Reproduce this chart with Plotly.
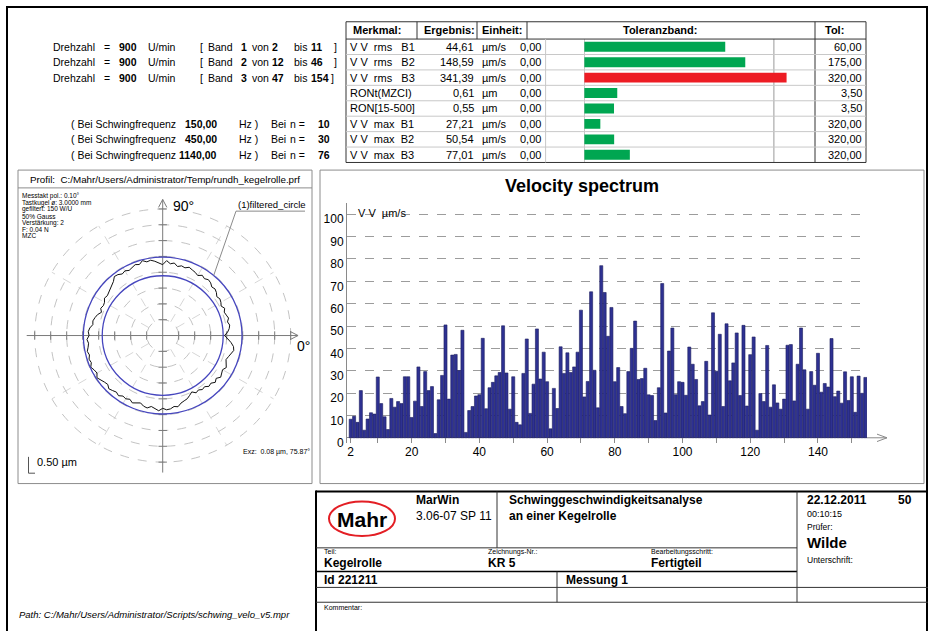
import math
import plotly.graph_objects as go

W, H = 930, 631
FONT = "Liberation Sans, Arial, Helvetica, sans-serif"

# ---------------- data ----------------
# velocity spectrum, harmonic order n = 2 .. 154 (values in um/s)
spectrum_n = list(range(2, 155))
spectrum_v = [
    8.3, 9.6, 6.9, 21.1, 3.4, 8.4, 11.2, 10.6, 27.2, 15.3,          # 2-11
    9.4, 3.7, 17.6, 13.7, 16.2, 15.3, 27.3, 27.3, 9.1, 16.4,         # 12-21
    31.7, 14.0, 29.6, 21.1, 22.9, 1.9, 17.0, 27.9, 50.5, 17.3,       # 22-31
    37.0, 37.3, 30.1, 48.1, 2.4, 12.2, 14.0, 18.7, 19.3, 44.5,       # 32-41
    13.0, 22.4, 24.8, 27.7, 29.2, 50.1, 29.0, 12.8, 27.3, 6.9,       # 42-51
    5.8, 28.8, 44.2, 10.9, 24.0, 48.7, 26.3, 38.3, 25.1, 4.0,        # 52-61
    22.1, 13.1, 40.7, 28.8, 38.0, 29.2, 31.7, 38.3, 57.1, 18.3,      # 62-71
    25.2, 65.3, 30.2, 13.4, 77.0, 65.0, 45.4, 58.3, 25.1, 31.4,      # 72-81
    14.0, 10.8, 29.6, 40.0, 52.2, 26.1, 26.5, 31.1, 19.2, 18.9,      # 82-91
    7.7, 22.4, 69.0, 11.1, 38.8, 49.1, 19.3, 25.1, 24.8, 19.0,       # 92-101
    40.6, 32.9, 26.1, 14.3, 16.2, 34.2, 10.2, 55.9, 29.8, 46.3,      # 102-111
    14.0, 51.0, 25.5, 33.5, 46.9, 18.9, 50.3, 14.2, 37.2, 45.1,      # 112-121
    3.4, 19.8, 16.2, 41.3, 13.7, 23.7, 15.6, 12.8, 17.3, 41.4,       # 122-131
    41.7, 16.5, 32.9, 49.1, 30.4, 12.8, 29.6, 23.5, 37.8, 20.4,      # 132-141
    24.3, 22.7, 44.4, 18.4, 20.9, 15.5, 29.5, 16.7, 27.3, 11.4,      # 142-151
    27.6, 19.9, 27.0,                                                # 152-154
]
spectrum_yticks = [0, 10, 20, 30, 40, 50, 60, 70, 80, 90, 100]
spectrum_xlabels = [2, 20, 40, 60, 80, 100, 120, 140]
spectrum_xticks = [10, 30, 50, 70, 90, 110, 130, 150]

# result table
merkmal = ["V V  rms   B1", "V V  rms   B2", "V V  rms   B3", "RONt(MZCI)",
           "RON[15-500]", "V V  max  B1", "V V  max  B2", "V V  max  B3"]
ergebnis = [44.61, 148.59, 341.39, 0.61, 0.55, 27.21, 50.54, 77.01]
einheit = ["µm/s", "µm/s", "µm/s", "µm", "µm", "µm/s", "µm/s", "µm/s"]
untere_tol = [0.00, 0.00, 0.00, 0.00, 0.00, 0.00, 0.00, 0.00]
obere_tol = [60.00, 175.00, 320.00, 3.50, 3.50, 320.00, 320.00, 320.00]

# band info
drehzahl = [900, 900, 900]
band_nr = [1, 2, 3]
band_von = [2, 12, 47]
band_bis = [11, 46, 154]
schwing_freq = [150.00, 450.00, 1140.00]
schwing_n = [10, 30, 76]

# roundness profile (polar), radius in plot units every 3 degrees
profile_deg = [3 * i for i in range(120)]
profile_r = [
    1.93, 2.03, 2.09, 2.12, 2.07, 2.13, 2.09, 2.06, 2.12, 2.05,
    2.10, 2.13, 2.09, 2.16, 2.20, 2.17, 2.24, 2.27, 2.22, 2.27,
    2.19, 2.24, 2.27, 2.31, 2.25, 2.28, 2.23, 2.32, 2.28, 2.37,
    2.24, 2.30, 2.36, 2.41, 2.38, 2.45, 2.36, 2.40, 2.35, 2.31,
    2.36, 2.32, 2.38, 2.40, 2.30, 2.25, 2.21, 2.19, 2.14, 2.17,
    2.10, 2.08, 2.12, 2.05, 2.14, 2.19, 2.23, 2.21, 2.29, 2.33,
    2.30, 2.37, 2.33, 2.36, 2.41, 2.37, 2.42, 2.39, 2.46, 2.40,
    2.37, 2.45, 2.38, 2.34, 2.31, 2.38, 2.34, 2.30, 2.35, 2.28,
    2.31, 2.26, 2.33, 2.29, 2.24, 2.31, 2.34, 2.27, 2.31, 2.38,
    2.30, 2.35, 2.33, 2.27, 2.30, 2.21, 2.17, 2.14, 2.07, 2.00,
    2.09, 2.05, 2.11, 2.08, 2.16, 2.13, 2.21, 2.15, 2.24, 2.19,
    2.16, 2.23, 2.18, 2.12, 2.16, 2.21, 2.27, 2.24, 2.15, 2.04,
]
mzc_radii = [1.89, 2.48]
grid_radii = [0.5, 1.0, 1.5, 2.0, 2.5, 3.0, 3.5, 4.0]
radial_deg = [30, 60, 120, 150, 210, 240, 300, 330]

# ---------------- helpers ----------------
def X(p):
    return p / W


def Y(p):
    return 1 - p / H


def fmt(v):
    return f"{v:.2f}".replace(".", ",")


shapes, annos = [], []


def pline(x0, y0, x1, y1, color="#000", width=1, dash=None, layer="above"):
    ln = dict(color=color, width=width)
    if dash:
        ln["dash"] = dash
    shapes.append(dict(type="line", xref="paper", yref="paper", x0=X(x0), y0=Y(y0),
                       x1=X(x1), y1=Y(y1), line=ln, layer=layer))


def prect(x0, y0, x1, y1, color, width=1):
    shapes.append(dict(type="rect", xref="paper", yref="paper", x0=X(x0), y0=Y(y0),
                       x1=X(x1), y1=Y(y1), line=dict(color=color, width=width),
                       fillcolor="rgba(0,0,0,0)"))


def txt(x, y, s, size=11, anchor="left", color="#000"):
    annos.append(dict(xref="paper", yref="paper", x=X(x), y=Y(y), text=s, showarrow=False,
                      xanchor=anchor, yanchor="middle", borderpad=0,
                      font=dict(family=FONT, size=size, color=color)))


NB = "\u00a0"

fig = go.Figure()

# ---------------- velocity spectrum (x / y) ----------------
fig.add_trace(go.Bar(x=spectrum_n, y=spectrum_v, xaxis="x", yaxis="y",
                     marker=dict(color="#2E3192", line=dict(color="#1C1E5E", width=0.6)),
                     width=0.9, hoverinfo="skip"))

px_per_n = 3.386
x_left_px, x_right_px = 347, 867
n_lo = spectrum_n[0] - (350.7 - x_left_px) / px_per_n
n_hi = spectrum_n[0] + (x_right_px - 350.7) / px_per_n
y0_px, y_top_px, y_bot_px = 442.7, 205.4, 448.4
px_per_v = 2.2605
v_lo = -(y_bot_px - y0_px) / px_per_v
v_hi = (y0_px - y_top_px) / px_per_v

xt_vals = sorted(spectrum_xlabels + spectrum_xticks)
xt_text = [str(v) if v in spectrum_xlabels else "" for v in xt_vals]

# ---------------- polar profile (x2 / y2) ----------------
cx, cy, upx = 162.7, 339.3, 32.0
pol_x0, pol_x1, pol_y0, pol_y1 = 20, 306, 175, 486
ang = profile_deg + [profile_deg[0]]
rr = profile_r + [profile_r[0]]
prof_x = [r * math.cos(math.radians(a)) for a, r in zip(ang, rr)]
prof_y = [r * math.sin(math.radians(a)) for a, r in zip(ang, rr)]

for r in grid_radii:
    shapes.append(dict(type="circle", xref="x2", yref="y2", x0=-r, y0=-r, x1=r, y1=r,
                       line=dict(color="#b4b4b4", width=0.8, dash="dash"), layer="below"))
for a in radial_deg:
    shapes.append(dict(type="line", xref="x2", yref="y2",
                       x0=grid_radii[0] * math.cos(math.radians(a)),
                       y0=grid_radii[0] * math.sin(math.radians(a)),
                       x1=grid_radii[-1] * math.cos(math.radians(a)),
                       y1=grid_radii[-1] * math.sin(math.radians(a)),
                       line=dict(color="#c4c4c4", width=0.7, dash="dash"), layer="below"))
for r in mzc_radii:
    shapes.append(dict(type="circle", xref="x2", yref="y2", x0=-r, y0=-r, x1=r, y1=r,
                       line=dict(color="#4646BE", width=1.3), layer="above"))

ax_col = "#7a7a7a"
# polar axes with arrows
shapes.append(dict(type="line", xref="x2", yref="y2", x0=-4.25, y0=0, x1=4.23, y1=0,
                   line=dict(color=ax_col, width=1), layer="below"))
shapes.append(dict(type="line", xref="x2", yref="y2", x0=0, y0=-4.33, x1=0, y1=4.30,
                   line=dict(color=ax_col, width=1), layer="below"))
for sgn in (1, -1):
    shapes.append(dict(type="line", xref="x2", yref="y2", x0=3.98, y0=0.13 * sgn, x1=4.23, y1=0,
                       line=dict(color=ax_col, width=1)))
    shapes.append(dict(type="line", xref="x2", yref="y2", x0=0.13 * sgn, y0=4.05, x1=0, y1=4.30,
                       line=dict(color=ax_col, width=1)))

tick_pos = [s * r for r in grid_radii for s in (1, -1)]
fig.add_trace(go.Scatter(x=tick_pos, y=[0] * len(tick_pos), xaxis="x2", yaxis="y2",
                         mode="markers", hoverinfo="skip",
                         marker=dict(symbol="line-ns", size=6, line=dict(color=ax_col, width=1))))
fig.add_trace(go.Scatter(x=[0] * len(tick_pos), y=tick_pos, xaxis="x2", yaxis="y2",
                         mode="markers", hoverinfo="skip",
                         marker=dict(symbol="line-ew", size=6, line=dict(color=ax_col, width=1))))
fig.add_trace(go.Scatter(x=prof_x, y=prof_y, xaxis="x2", yaxis="y2", mode="lines",
                         line=dict(color="#111111", width=1), hoverinfo="skip"))

# ---------------- tolerance bars (x3 / y3) ----------------
zero_px, tol_px = 584.2, 773.9
tb_right = 815
tab_top, head_bot, row_h = 22, 39.5, 15.6
tab_bot = head_bot + row_h * len(merkmal)
pct = [e / t * 100 for e, t in zip(ergebnis, obere_tol)]
bar_cols = ["#ED1C24" if e > t else "#00A651" for e, t in zip(ergebnis, obere_tol)]
fig.add_trace(go.Bar(x=pct, y=list(range(len(merkmal))), orientation="h",
                     xaxis="x3", yaxis="y3", marker=dict(color=bar_cols, line=dict(width=0)),
                     width=0.64, hoverinfo="skip"))
shapes.append(dict(type="line", xref="x3", yref="paper", x0=0, x1=0, y0=Y(head_bot), y1=Y(tab_bot),
                   line=dict(color="#9a9a9a", width=1), layer="below"))
shapes.append(dict(type="line", xref="x3", yref="paper", x0=100, x1=100, y0=Y(head_bot), y1=Y(tab_bot),
                   line=dict(color="#9a9a9a", width=1), layer="below"))

# ---------------- page frame & boxes ----------------
prect(7, 7, 927, 680, "#000", 2)
prect(18, 172, 312, 489, "#8c8c8c", 1)
pline(18, 190, 312, 190, "#8c8c8c", 1)
prect(320, 172, 924, 489, "#8c8c8c", 1)

# table grid
prect(346, tab_top, 866, tab_bot, "#333", 1)
pline(346, head_bot, 866, head_bot, "#333", 1)
for xv in (417, 477, 527):
    pline(xv, tab_top, xv, head_bot, "#333", 1)
pline(tb_right, tab_top, tb_right, tab_bot, "#333", 1)
pline(545.6, head_bot, 545.6, tab_bot, "#c8c8c8", 1)
for k in range(1, len(merkmal)):
    pline(346, head_bot + k * row_h, 866, head_bot + k * row_h, "#c8c8c8", 1)

# table text
hy = (tab_top + head_bot) / 2
txt(352, hy, "<b>Merkmal:</b>")
txt(423, hy, "<b>Ergebnis:</b>")
txt(481, hy, "<b>Einheit:</b>")
txt(660, hy, "<b>Toleranzband:</b>", anchor="center")
txt(824, hy, "<b>Tol:</b>")
for i in range(len(merkmal)):
    ry = head_bot + row_h * (i + 0.5)
    txt(349, ry, merkmal[i].replace(" ", NB))
    txt(475, ry, fmt(ergebnis[i]), anchor="right")
    txt(481, ry, einheit[i])
    txt(542, ry, fmt(untere_tol[i]), anchor="right")
    txt(863, ry, fmt(obere_tol[i]), anchor="right")

# top-left info text (aligned with table rows)
TS = 10.5
for i in range(3):
    ry = head_bot + row_h * (i + 0.5)
    txt(52, ry, "Drehzahl", TS)
    txt(103, ry, "=", TS)
    txt(118, ry, f"<b>{drehzahl[i]}</b>", TS)
    txt(147, ry, "U/min", TS)
    txt(199, ry, "[", TS)
    txt(207, ry, "Band", TS)
    txt(240, ry, f"<b>{band_nr[i]}</b>", TS)
    txt(251, ry, "von", TS)
    txt(271, ry, f"<b>{band_von[i]}</b>", TS)
    txt(293, ry, "bis", TS)
    txt(310, ry, f"<b>{band_bis[i]}</b>", TS)
    txt(333 if band_bis[i] < 100 else 330, ry, "]", TS)
for i in range(3):
    ry = head_bot + row_h * (i + 5.5)
    txt(70, ry, "(" + NB + "Bei Schwingfrequenz", TS)
    txt(218, ry, f"<b>{fmt(schwing_freq[i])}</b>", TS, anchor="right")
    txt(238, ry, "Hz" + NB + ")", TS)
    txt(270, ry, "Bei", TS)
    txt(289, ry, "n" + NB + "=", TS)
    txt(331, ry, f"<b>{schwing_n[i]}</b>", TS, anchor="right")

# spectrum texts & x-axis arrow
txt(582, 188, "<b>Velocity spectrum</b>", size=18, anchor="center")
txt(357, 215, "V" + NB + "V" + NB + NB + "µm/s", size=11)
pline(x_right_px, y0_px, 887, y0_px, "#8a8a8a", 1)
pline(877, 439, 887, y0_px, "#8a8a8a", 1)
pline(877, 446.5, 887, y0_px, "#8a8a8a", 1)

# polar texts
txt(165, 181.5, "Profil:" + NB + NB + "C:/Mahr/Users/Administrator/Temp/rundh_kegelrolle.prf",
    size=9.8, anchor="center")
info_lines = ["Messtakt pol.: 0.10°", "Tastkugel ø: 3.0000 mm", "gefiltert: 150 W/U",
              "50% Gauss", "Verstärkung: 2", "F: 0.04 N", "MZC"]
for i, s in enumerate(info_lines):
    txt(21, 198.5 + 6.65 * i, s, size=6.5)
txt(172, 208, "90°", size=14)
txt(296, 350, "0°", size=14)
txt(237, 207, "(1)filtered_circle", size=9.5)
pline(236, 213.5, 305, 213.5, "#8a8a8a", 1)
lead_a = math.radians(50)
pline(236, 213.5, cx + mzc_radii[1] * upx * math.cos(lead_a),
      cy - mzc_radii[1] * upx * math.sin(lead_a), "#8a8a8a", 1)
txt(242, 457, "Exz:" + NB + NB + "0.08 µm, 75.87°", size=7)
txt(36, 467, "0.50 µm", size=11)
pline(28.5, 462, 28.5, 478.5, "#555", 1)
pline(28.5, 478.5, 35, 478.5, "#555", 1)

# path
txt(18, 621.5, "<i>Path: C:/Mahr/Users/Administrator/Scripts/schwing_velo_v5.mpr</i>", size=9.5)

# ---------------- title block ----------------
pline(316, 497, 928, 497, "#000", 2)
pline(316, 496, 316, 680, "#000", 2)
pline(497, 497, 497, 554, "#333", 1)
pline(316, 554, 797, 554, "#333", 1)
pline(316, 578, 797, 578, "#000", 1.5)
pline(797, 497, 797, 609, "#333", 1)
pline(557, 578, 557, 609, "#333", 1)
pline(316, 594, 928, 594, "#333", 1)
pline(316, 609, 928, 609, "#333", 1)

shapes.append(dict(type="circle", xref="paper", yref="paper", x0=X(329), x1=X(395),
                   y0=Y(542), y1=Y(507), line=dict(color="#E31E24", width=2)))
txt(362, 525.5, "<b>Mahr</b>", size=21, anchor="center")
txt(415, 506, "<b>MarWin</b>", size=12)
txt(415, 522, "3.06-07 SP 11", size=12)
txt(508, 506, "<b>Schwinggeschwindigkeitsanalyse</b>", size=12)
txt(508, 522, "<b>an einer Kegelrolle</b>", size=12)
txt(806, 506, "<b>22.12.2011</b>", size=12)
txt(897, 506, "<b>50</b>", size=12)
txt(806, 519.5, "00:10:15", size=9)
txt(806, 532.5, "Prüfer:", size=8.5)
txt(806, 549, "<b>Wilde</b>", size=15)
txt(806, 566.5, "Unterschrift:", size=8.5)
txt(323, 558, "Teil:", size=7)
txt(487, 558, "Zeichnungs-Nr.:", size=7)
txt(650, 558, "Bearbeitungsschritt:", size=7)
txt(323, 569.5, "<b>Kegelrolle</b>", size=12)
txt(487, 569.5, "<b>KR 5</b>", size=12)
txt(650, 569.5, "<b>Fertigteil</b>", size=12)
txt(323, 586.5, "<b>Id 221211</b>", size=12)
txt(565, 586.5, "<b>Messung 1</b>", size=12)
txt(323, 614.5, "Kommentar:", size=7)

# ---------------- layout ----------------
fig.update_layout(
    width=W, height=H, margin=dict(l=0, r=0, t=0, b=0, pad=0),
    paper_bgcolor="white", plot_bgcolor="rgba(0,0,0,0)",
    showlegend=False, hovermode=False, bargap=0.05,
    font=dict(family=FONT, size=12, color="#000"),
    xaxis=dict(domain=[X(x_left_px), X(x_right_px)], range=[n_lo, n_hi], anchor="y",
               tickmode="array", tickvals=xt_vals, ticktext=xt_text,
               ticks="inside", ticklen=5, tickcolor="#8a8a8a", showgrid=False,
               zeroline=False, showline=False, tickfont=dict(size=12, color="#000"),
               fixedrange=True),
    yaxis=dict(domain=[Y(y_bot_px), Y(y_top_px)], range=[v_lo, v_hi], anchor="x",
               tickmode="array", tickvals=spectrum_yticks, ticks="",
               showgrid=True, gridcolor="#9c9c9c", griddash="dash", gridwidth=1,
               zeroline=True, zerolinecolor="#8a8a8a", zerolinewidth=1,
               showline=True, linecolor="#8a8a8a", linewidth=1,
               tickfont=dict(size=12, color="#000"), ticklabelshift=5, fixedrange=True),
    xaxis2=dict(domain=[X(pol_x0), X(pol_x1)],
                range=[(pol_x0 - cx) / upx, (pol_x1 - cx) / upx],
                anchor="y2", visible=False, fixedrange=True),
    yaxis2=dict(domain=[Y(pol_y1), Y(pol_y0)],
                range=[(cy - pol_y1) / upx, (cy - pol_y0) / upx],
                anchor="x2", visible=False, fixedrange=True),
    xaxis3=dict(domain=[X(zero_px), X(tb_right)],
                range=[0, (tb_right - zero_px) / (tol_px - zero_px) * 100],
                anchor="y3", visible=False, fixedrange=True),
    yaxis3=dict(domain=[Y(tab_bot), Y(head_bot)], range=[len(merkmal) - 0.5, -0.5],
                anchor="x3", visible=False, fixedrange=True),
    shapes=shapes, annotations=annos,
)

fig.write_html("out.html", config={"displayModeBar": False, "staticPlot": True},
               post_script="document.body.style.margin='0px';document.body.style.overflow='hidden';")
